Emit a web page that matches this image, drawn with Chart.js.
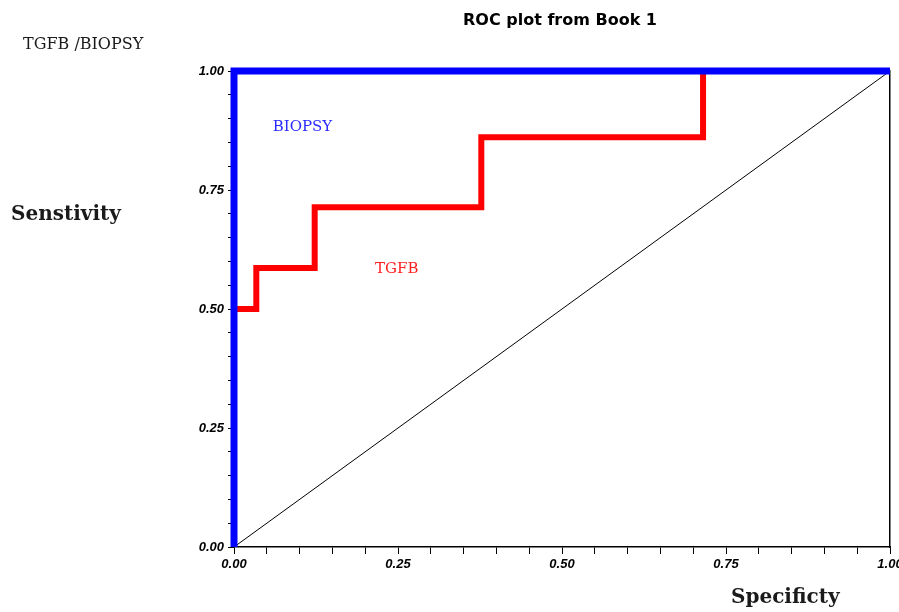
<!DOCTYPE html>
<html>
<head>
<meta charset="utf-8">
<script src="https://cdn.jsdelivr.net/npm/chart.js@4.4.0/dist/chart.umd.min.js"></script>
<style>
	body { margin: 0; background: #fff; }
	#wrap { position: relative; width: 899px; height: 612px; }
	.lbl { position: absolute; white-space: nowrap; color: #1a1a1a; }
</style>
</head>
<body>
<div id="wrap">
	<canvas id="roc-chart" width="899" height="612"></canvas>
	<div class="lbl" style="left:463px; top:10px; font:bold 16px 'DejaVu Sans'; color:#000;">ROC plot from Book 1</div>
	<div class="lbl" style="left:23px; top:34px; font:16px 'DejaVu Serif';">TGFB /BIOPSY</div>
	<div class="lbl" style="left:11px; top:201px; font:bold 20px 'DejaVu Serif';">Senstivity</div>
	<div class="lbl" style="left:731px; top:584px; font:bold 20px 'DejaVu Serif';">Specificty</div>
</div>
<script>
// ROC points (x = 1 - specificity, y = sensitivity)
const tgfbX = [0, 0.034, 0.034, 0.123, 0.123, 0.377, 0.377, 0.715, 0.715];
const tgfbY = [0.5, 0.5, 0.586, 0.586, 0.714, 0.714, 0.861, 0.861, 1.0];
const biopsyX = [0, 0, 1];
const biopsyY = [0, 1, 1];
const refX = [0, 1];
const refY = [0, 1];
const tickLabels = ["0.00", "0.25", "0.50", "0.75", "1.00"];

const toPoints = (xs, ys) => xs.map((v, i) => ({ x: v, y: ys[i] }));

const tickText = (value) => {
	const txt = value.toFixed(2);
	return tickLabels.includes(txt) ? txt : "";
};

const curveLabels = {
	id: "curveLabels",
	afterDatasetsDraw(chart) {
		const { ctx, scales } = chart;
		ctx.save();
		ctx.font = "15px 'DejaVu Serif'";
		ctx.fillStyle = "#2a2aff";
		ctx.fillText("BIOPSY", scales.x.getPixelForValue(0.059), scales.y.getPixelForValue(0.874));
		ctx.fillStyle = "#ff2020";
		ctx.fillText("TGFB", scales.x.getPixelForValue(0.215), scales.y.getPixelForValue(0.576));
		ctx.restore();
	},
};

const tickFont = { family: "'Liberation Sans'", size: 13, style: "italic", weight: "bold" };

const ctx = document.getElementById("roc-chart").getContext("2d");
const myChart = new Chart(ctx, {
	type: "scatter",
	data: {
		datasets: [
			{
				label: "BIOPSY",
				data: toPoints(biopsyX, biopsyY),
				showLine: true,
				borderColor: "#0000ff",
				borderWidth: 7,
				pointRadius: 0,
				clip: false,
				order: 0,
			},
			{
				label: "TGFB",
				data: toPoints(tgfbX, tgfbY),
				showLine: true,
				borderColor: "#ff0000",
				borderWidth: 6,
				pointRadius: 0,
				clip: false,
				order: 1,
			},
			{
				label: "Reference",
				data: toPoints(refX, refY),
				showLine: true,
				borderColor: "#000000",
				borderWidth: 1,
				pointRadius: 0,
				order: 2,
			},
		],
	},
	options: {
		responsive: false,
		animation: false,
		layout: {
			padding: { left: 184, right: 9, top: 71, bottom: 37 },
		},
		scales: {
			x: {
				type: "linear",
				min: 0,
				max: 1,
				ticks: {
					stepSize: 0.05,
					autoSkip: false,
					maxRotation: 0,
					padding: 3,
					color: "#000",
					font: tickFont,
					callback: tickText,
				},
				grid: { drawOnChartArea: false, tickLength: 7, color: "#000" },
				border: { color: "#000", width: 1.5 },
				afterFit(scale) {
					scale.height = 28;
					scale.paddingLeft = 0;
					scale.paddingRight = 0;
				},
			},
			y: {
				min: 0,
				max: 1,
				ticks: {
					stepSize: 0.05,
					autoSkip: false,
					padding: 4,
					color: "#000",
					font: tickFont,
					callback: tickText,
				},
				grid: { drawOnChartArea: false, tickLength: 6, color: "#000" },
				border: { color: "#000", width: 1.5 },
				afterFit(scale) {
					scale.width = 50;
					scale.paddingTop = 0;
					scale.paddingBottom = 0;
				},
			},
			y2: {
				position: "right",
				min: 0,
				max: 1,
				ticks: { display: false },
				grid: { display: false },
				border: { display: true, color: "#000", width: 1.5 },
				afterFit(scale) {
					scale.width = 0;
				},
			},
		},
		plugins: {
			legend: { display: false },
			tooltip: { enabled: false },
		},
	},
	plugins: [curveLabels],
});
</script>
</body>
</html>
